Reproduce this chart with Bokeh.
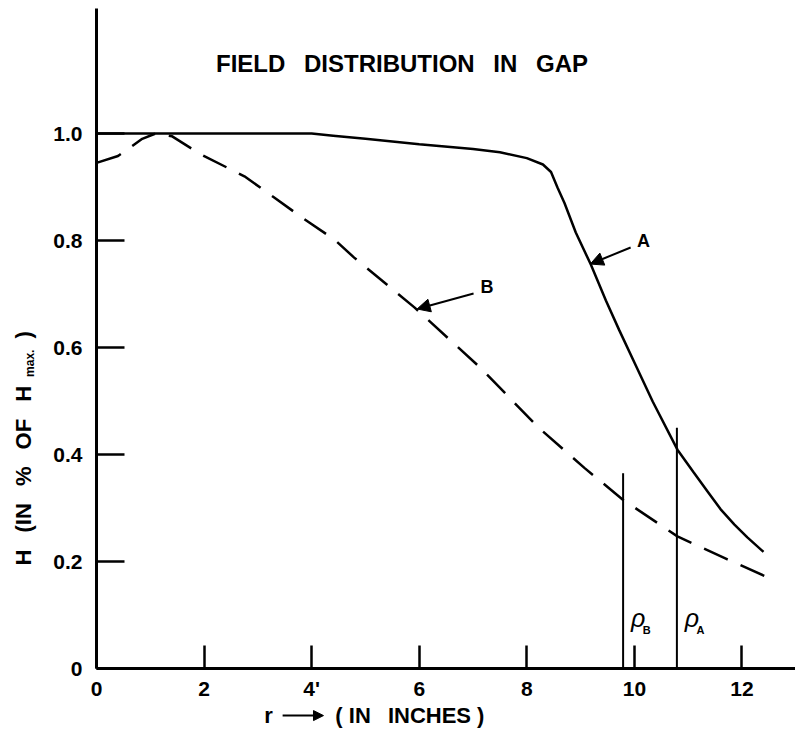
import math
from bokeh.plotting import figure
from bokeh.models import Range1d, FixedTicker, Label, Arrow, NormalHead, ColumnDataSource
from bokeh.embed import file_html
from bokeh.resources import INLINE

# ---- data ----
a_r = [0, 1, 2, 3, 4, 4.4, 5, 6, 7, 7.5, 8.0, 8.3, 8.45, 8.57, 8.7, 8.91, 9.19, 9.47, 9.72, 10.0, 10.34, 10.8, 11.1, 11.36, 11.6, 11.86, 12.1, 12.4]
a_h = [1.0, 1.0, 1.0, 1.0, 1.0, 0.996, 0.99, 0.98, 0.971, 0.965, 0.954, 0.942, 0.928, 0.899, 0.87, 0.815, 0.755, 0.688, 0.632, 0.572, 0.499, 0.409, 0.367, 0.331, 0.298, 0.269, 0.245, 0.218]

b_r = [0, 0.4, 0.6, 0.85, 1.1, 1.4, 1.94, 2.75, 3.31, 3.86, 4.42, 4.79, 5.91, 7.15, 8.2, 9.07, 9.78, 10.8, 11.73, 12.42]
b_h = [0.945, 0.958, 0.972, 0.99, 1.0, 0.995, 0.961, 0.92, 0.88, 0.84, 0.802, 0.768, 0.675, 0.561, 0.452, 0.375, 0.316, 0.247, 0.204, 0.173]

rho_r = [9.79, 10.79]
rho_top = [0.365, 0.45]
rho_names = ["B", "A"]

x_ticks = [0, 2, 4, 6, 8, 10, 12]
x_tick_labels = ["0", "2", "4'", "6", "8", "10", "12"]
y_ticks = [0, 0.2, 0.4, 0.6, 0.8, 1.0]
y_tick_labels = ["0", "0.2", "0.4", "0.6", "0.8", "1.0"]

SP = "\u2002\u00a0"
title_text = SP.join(["FIELD", "DISTRIBUTION", "IN", "GAP"])
FONT = "Liberation Sans"

W, H = 795, 733
PX_X, PX_Y = 53.79, 535.0     # pixels per data unit
X0_PX, Y0_PX = 96.0, 668.0    # where the origin sits on the canvas
x_start = -X0_PX / PX_X
x_end = x_start + W / PX_X
y_end = Y0_PX / PX_Y
y_start = y_end - H / PX_Y

p = figure(width=W, height=H,
           x_range=Range1d(x_start, x_end), y_range=Range1d(y_start, y_end),
           output_backend="svg", toolbar_location=None,
           min_border_left=0, min_border_right=0, min_border_top=0, min_border_bottom=0)
p.outline_line_color = None
p.xgrid.visible = False
p.ygrid.visible = False
p.background_fill_color = "white"
p.border_fill_color = "white"

for ax in (p.xaxis[0], p.yaxis[0]):
    ax.fixed_location = 0
    ax.axis_line_width = 3
    ax.axis_line_color = "black"
    ax.major_tick_line_width = 2.5
    ax.major_tick_line_color = "black"
    ax.major_tick_out = 0
    ax.minor_tick_line_color = None
    ax.major_label_text_font = FONT
    ax.major_label_text_font_style = "bold"
    ax.major_label_text_font_size = "21px"
    ax.major_label_text_color = "black"

p.xaxis[0].bounds = (0, x_end)
p.xaxis[0].ticker = FixedTicker(ticks=x_ticks)
p.xaxis[0].major_label_overrides = dict(zip(x_ticks, x_tick_labels))
p.xaxis[0].major_tick_in = 23
p.xaxis[0].major_label_standoff = 8

p.yaxis[0].bounds = (0, (Y0_PX - 8) / PX_Y)
p.yaxis[0].ticker = FixedTicker(ticks=y_ticks)
p.yaxis[0].major_label_overrides = dict(zip(y_ticks, y_tick_labels))
p.yaxis[0].major_tick_in = 28
p.yaxis[0].major_label_standoff = 14

# curves
p.line(a_r, a_h, line_color="black", line_width=2.5)
p.line(b_r, b_h, line_color="black", line_width=2.5, line_dash="26 14")

# rho lines
src = ColumnDataSource(dict(x=rho_r, y0=[0, 0], y1=rho_top))
p.segment(x0="x", y0="y0", x1="x", y1="y1", source=src, line_color="black", line_width=2)

# annotations
def lab(x, y, text, size, style="bold", align="center", baseline="middle", angle=0.0):
    p.add_layout(Label(x=x, y=y, text=text, text_font=FONT, text_font_style=style,
                       text_font_size=size, text_align=align, text_baseline=baseline,
                       angle=angle, text_color="black"))

lab(5.68, 1.13, title_text, "24px")
lab(10.17, 0.80, "A", "18px")
lab(7.26, 0.714, "B", "18px")

head = dict(size=13, fill_color="black", line_color="black")
p.add_layout(Arrow(end=NormalHead(**head), x_start=9.93, y_start=0.787, x_end=9.18, y_end=0.756, line_width=2))
p.add_layout(Arrow(end=NormalHead(**head), x_start=7.01, y_start=0.701, x_end=5.96, y_end=0.672, line_width=2))

# rho labels
for xr, nm in zip(rho_r, rho_names):
    lab(xr + 0.28, 0.095, "\u03c1", "25px", style="italic")
    lab(xr + 0.44, 0.072, nm, "11px")

# x-axis label
lab(3.20, -0.088, "r", "22px")
p.add_layout(Arrow(end=NormalHead(size=10, fill_color="black", line_color="black"),
                   x_start=3.46, y_start=-0.088, x_end=4.22, y_end=-0.088, line_width=2))
lab(4.44, -0.088, "(\u00a0IN\u2002\u00a0INCHES\u00a0)", "22px", align="left")

# y-axis label (rotated)
yl = "H" + SP + "(IN" + SP + "%" + SP + "OF" + SP + "H"
lab(-1.357, 0.1925, yl, "22px", align="left", angle=math.pi / 2)
lab(-1.24, 0.545, "max.", "12px", align="left", angle=math.pi / 2)
lab(-1.357, 0.617, ")", "22px", align="left", angle=math.pi / 2)

open("out.html", "w").write(file_html(p, INLINE))
